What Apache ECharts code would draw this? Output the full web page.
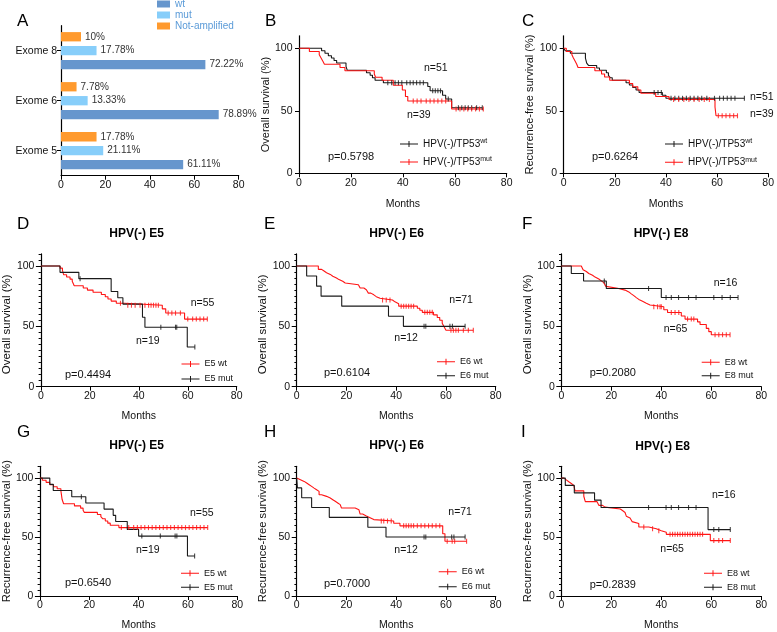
<!DOCTYPE html>
<html><head><meta charset="utf-8">
<script src="https://cdn.jsdelivr.net/npm/echarts@6/dist/echarts.min.js"></script>
<style>html,body{margin:0;padding:0;background:#fff}#c{width:777px;height:632px}</style>
</head><body><div id="c"></div><script>
// ---------- Panel A data ----------
const exomeCats = ['Exome 5', 'Exome 6', 'Exome 8'];
const wtCounts  = [55, 71, 65];
const mutCounts = [19, 12, 16];
const naCounts  = [16, 7, 9];
const wtPct  = ['61.11%', '78.89%', '72.22%'];
const mutPct = ['21.11%', '13.33%', '17.78%'];
const naPct  = ['17.78%', '7.78%', '10%'];

// ---------- Kaplan-Meier data: [months, survival %] steps, censor times ----------
const B_wt = [[0,100],[8.7,98],[10,96.1],[11.3,94.1],[12.5,92.2],[13.5,90.2],[14.5,88.2],[18.1,85.5],[18.6,82.4],[26,80.4],[27.4,78.4],[28.3,76.5],[29.3,74.5],[32.5,72.5],[49.6,69.5],[50.5,66],[55.3,62.5],[56.5,59.5],[58.8,52.5]];
const B_wt_c = [34.2,35.7,37,38.3,39.6,41.5,42.8,44,45.3,46.6,47.9,51.5,52.5,53.5,54.5,57.5,61.4,62.7,64,65.2,66.5,68.4,70.6];
const B_mut = [[0,100],[4,97.4],[7.8,94.9],[8.5,92.3],[9.2,89.7],[9.8,87.2],[15.8,84.6],[17.7,82.1],[29,79.5],[29.5,76.9],[32,74.4],[36.3,70.5],[39.8,66.7],[41,61.5],[41.9,57.8],[58.8,51.5]];
const B_mut_c = [44,45.5,47,49,50.5,52,53.5,55,56.5,60.5,62,63.5,65,66.5,68,69.5,71];

const C_wt = [[0,100],[0.6,98],[2.6,96.1],[8.5,92.2],[9,88.2],[9.7,86.3],[12.9,84.3],[14,82.4],[16.7,80.4],[17.5,78.4],[18.2,76.5],[19,74.5],[24.4,72.5],[25.7,70.6],[27,68.6],[28.3,66.7],[29.5,64.7],[38.6,62.5],[40,60]];
const C_wt_c = [35.4,36.9,38.2,42,43.5,45,46.5,48,49.5,51,52.5,54,56,59,61,62.5,64,65.5,67,70.7];
const C_mut = [[0,100],[1,97.4],[3.2,94.9],[3.8,92.3],[4.5,89.7],[5.1,87.2],[5.6,84.6],[12.2,82.1],[14.8,79.5],[16,77],[18,74.4],[25.7,71.8],[27,69.2],[29,66.7],[30.2,64.1],[36,61.5],[41.2,59],[59.2,53],[59.6,46]];
const C_mut_c = [43,45,47,49,51,53,55,57,60.5,62,63.5,65,66.5,68];

const D_wt = [[0,100],[7.8,98.2],[8.8,96.4],[9.3,92.7],[10.5,90.9],[11.9,89.1],[12.8,87.3],[13.6,83.6],[17.3,81.8],[19,80],[21.3,78.2],[24.7,76.4],[26.3,74.5],[27.4,72.7],[28.7,70.9],[30.8,69.1],[34.1,67.5],[49.6,64.5],[51,61],[58.7,56]];
const D_wt_c = [32.5,35.5,37,38.5,40.5,42.5,44,45,46,47,48,52,53.5,55,57,60,62,63.5,65,66.5,68];
const D_mut = [[0,100],[7.8,94.7],[15.5,89.5],[28.7,78.9],[31.4,73.7],[33.5,68.4],[41.5,57.5],[42.5,49.3],[59.8,32.9]];
const D_mut_c = [16,49,55,55.5,62.9];

const E_wt = [[0,100],[8.7,97.2],[10,95.8],[11,94.4],[12,93],[13.5,91.5],[14.5,90.1],[16,88.7],[17,87.3],[18.5,85.9],[19.5,84.5],[24.8,83.1],[25.5,81.7],[27,80.3],[28,78.9],[28.8,77.5],[29.8,76.1],[31,74.6],[32,73.2],[33.5,71.8],[38.5,70.3],[39.5,68.8],[41,66.7],[48.5,65],[49.5,63.3],[50.5,61.6],[55,59.5],[56.5,57.3],[57.5,55],[58.5,52.5],[59.2,49.8],[60,46.8]];
const E_wt_c = [34.5,36,37.5,42,43,44,45,46,47,51.5,52.5,53.5,54.5,62,63,64,65,67,69,71];
const E_mut = [[0,100],[4,91.7],[8,83.3],[9.8,75],[18.1,66.7],[36.9,58.3],[42.9,50]];
const E_mut_c = [51.2,51.9,61.6,62.6,67.7];

const F_wt = [[0,100],[8,98.5],[8.7,96.9],[9.3,95.4],[10,93.8],[11,92.3],[12.5,90.8],[13.5,89.2],[15,87.7],[16,86.2],[17,84.6],[17.8,83.1],[18.3,81.5],[22.5,80],[25.5,78.5],[27,76.9],[28,75.4],[29,73.8],[30,72.3],[31,70.8],[32.5,69.2],[34,67.7],[35.5,66.2],[41,63.8],[42.5,61.5],[48,58.6],[49.5,56],[54.5,53.7],[55.5,51.5],[58,48.3],[59,45.6],[60,43]];
const F_wt_c = [37,38.5,39.5,40,44,45.5,47,50.5,52,53,61.5,63,64.5,66,67.5];
const F_mut = [[0,100],[4,93.8],[8.9,87.5],[18,81.3],[40,73.9]];
const F_mut_c = [17.2,34.9,41.9,44,46.9,50.9,53.9,61,64.3,67.6,70.7];

const G_wt = [[0,100],[1,98.2],[2.5,96.4],[4,94.5],[5.5,92.7],[7,90.9],[8.5,89.1],[9,81.8],[9.6,78.2],[14,76.4],[16.5,74.5],[17.5,72.7],[18,70.9],[23.3,69.1],[24.7,67.3],[25.5,65.5],[26.5,63.6],[27.5,61.8],[28.5,60],[32,58]];
const G_wt_c = [33,36,38,39.5,41,42.5,44,45.5,47,48.5,50,51.5,53,54.5,56,57.5,59,60.5,62,63.5,65,66.5,68];
const G_mut = [[0,100],[4,94.7],[5.4,89.5],[12.9,84.2],[18.6,78.9],[26,73.7],[29.7,68.4],[30.7,63.2],[35.4,56.5],[40,50.8],[59.8,33.9]];
const G_mut_c = [16.8,41.3,48.8,54.8,55.5,62.7];

const H_wt = [[0,100],[0.5,98.6],[1.5,97.2],[3,95.8],[4,94.4],[5,93],[6,91.5],[7,90.1],[8,88.7],[9,85.9],[10,84.5],[12,83.1],[13.5,81.7],[14.5,80.3],[15.5,78.9],[16.5,77.5],[17.5,76],[18,74.6],[23.5,73.2],[25,71.7],[25.5,69.5],[26.5,67.9],[28,66.4],[29.5,64.8],[31,63.6],[39,61.7],[41.5,59.5],[58.7,52.8],[59.6,46.4]];
const H_wt_c = [34,35,36.5,38,43,44,45,46,47,48.5,50,51.5,53,54.5,56,57.5,60.5,62.5,63.5,68.3];
const H_mut = [[0,100],[0.3,91.7],[2,83.3],[6,75],[13.1,66.7],[28.6,58.3],[35.9,50]];
const H_mut_c = [51.2,51.9,62.3,63.2,67.7];

const I_wt = [[0,100],[1,98.5],[2,96.9],[3,95.4],[4,93.8],[5,92.3],[5.5,89.2],[9,84.6],[9.6,80],[14.3,78.5],[15,76.9],[16.5,75.4],[17.5,73.8],[23.6,72.3],[24.6,70.8],[25.5,69.2],[26,67.7],[26.5,66.2],[27.5,64.6],[28.3,63.1],[29,61.5],[31,58.5],[35,57],[38,55.4],[40,54],[42,52.3],[59.6,47]];
const I_wt_c = [33,36.5,39,43.5,44.5,45.5,46.5,47.5,48.5,49.5,50.5,51.5,52.5,53.5,54.5,55.5,56.5,61,63,64.5,67.6];
const I_mut = [[0,100],[1.6,93.8],[5.2,87.5],[13.3,81.3],[15.9,75],[58.7,56.3]];
const I_mut_c = [34.9,41.9,44,46.9,50.9,53.9,61,63,67.6];

const yTickValues = [0, 50, 100];

// ---------- styling / layout ----------
const FONT = "'Liberation Sans', Arial, Helvetica, sans-serif";
const RED = '#ff1414', BLK = '#1a1a1a';
const OS = 'Overall survival (%)', RFS = 'Recurrence-free survival (%)';
const TP_WT = 'HPV(-)/TP53wt', TP_MUT = 'HPV(-)/TP53mut';

// g: grid [left, top, width, height]; leg: [left, top, itemGap, lineHeight]
const kmPanels = [
  {g:[299,35.8,207.7,137.5], y:OS, yGap:26, yFs:11, yPad:0, xGap:25, minor:false,
   curves:[[TP_WT,BLK,B_wt,B_wt_c],[TP_MUT,RED,B_mut,B_mut_c]], leg:[400,138,6,12],
   texts:[['p=0.5798',328,157],['n=51',424,68],['n=39',407,115]]},
  {g:[563.7,35.8,207.3,137.5], y:RFS, yGap:27, yFs:11, yPad:0, xGap:25, minor:false,
   curves:[[TP_WT,BLK,C_wt,C_wt_c],[TP_MUT,RED,C_mut,C_mut_c]], leg:[665,138,6.3,12],
   texts:[['p=0.6264',592,157],['n=51',750,96.7],['n=39',750,114]]},
  {g:[39,253.9,197.7,132.8], y:OS, yGap:25, yFs:11.5, yPad:8, xGap:24, minor:true,
   curves:[['E5 wt',RED,D_wt,D_wt_c],['E5 mut',BLK,D_mut,D_mut_c]], leg:[181.5,359,5,10],
   texts:[['p=0.4494',65,375],['n=55',190.7,303.3],['n=19',136,340.7]]},
  {g:[296.7,253.9,199,132.8], y:OS, yGap:24, yFs:11.5, yPad:8, xGap:24, minor:true,
   curves:[['E6 wt',RED,E_wt,E_wt_c],['E6 mut',BLK,E_mut,E_mut_c]], leg:[437,356.7,4,10],
   texts:[['p=0.6104',324,373.3],['n=71',449.3,300],['n=12',394.3,337.7]]},
  {g:[561.3,253.9,200,132.8], y:OS, yGap:25, yFs:11.5, yPad:8, xGap:24, minor:true,
   curves:[['E8 wt',RED,F_wt,F_wt_c],['E8 mut',BLK,F_mut,F_mut_c]], leg:[701.7,357.3,3.4,10],
   texts:[['p=0.2080',589.7,373.3],['n=16',713.7,283.3],['n=65',663.7,329.3]]},
  {g:[39,466.3,198.3,132], y:RFS, yGap:25, yFs:11.2, yPad:0, xGap:24, minor:true,
   curves:[['E5 wt',RED,G_wt,G_wt_c],['E5 mut',BLK,G_mut,G_mut_c]], leg:[181,568.3,4,10],
   texts:[['p=0.6540',65,583.3],['n=55',190,512.7],['n=19',136,550]]},
  {g:[296.7,466.3,199,132], y:RFS, yGap:23, yFs:11.2, yPad:0, xGap:24, minor:true,
   curves:[['E6 wt',RED,H_wt,H_wt_c],['E6 mut',BLK,H_mut,H_mut_c]], leg:[438.7,566.7,5,10],
   texts:[['p=0.7000',324,584],['n=71',448.3,512.3],['n=12',394.3,550]]},
  {g:[561.3,466.3,200,132], y:RFS, yGap:25, yFs:11.2, yPad:0, xGap:24, minor:true,
   curves:[['E8 wt',RED,I_wt,I_wt_c],['E8 mut',BLK,I_mut,I_mut_c]], leg:[704,568.3,4,10],
   texts:[['p=0.2839',589.7,585],['n=16',712,495],['n=65',660.3,549.3]]}
];
const letters = [['A',17,21],['B',265,21],['C',522,21],['D',17,224],['E',264,224],['F',522,224],['G',17,432.5],['H',264,432.5],['I',521,432.5]];
const titles = [['HPV(-) E5',136.7,233.3],['HPV(-) E6',396.7,233.3],['HPV(-) E8',661,233.3],['HPV(-) E5',136.7,446],['HPV(-) E6',396.7,446],['HPV(-) E8',662.7,446.5]];

function survAt(steps, t) {
  let s = steps[0][1];
  for (const p of steps) { if (p[0] <= t) s = p[1]; else break; }
  return s;
}

const axisLineStyle = {color:'#000', width:1.2};
const option = {
  animation:false,
  textStyle:{fontFamily:FONT},
  grid:[], xAxis:[], yAxis:[], series:[], legend:[],
  graphic:{elements:[]}
};

// ---------- Panel A ----------
option.grid.push({left:61, top:25.7, width:177.7, height:150});
option.xAxis.push({gridIndex:0, type:'value', min:0, max:80, interval:20,
  axisLine:{show:true, lineStyle:axisLineStyle}, axisTick:{show:true, length:4, lineStyle:{color:'#000'}},
  splitLine:{show:false}, axisLabel:{fontSize:10.5, color:'#111', margin:4}});
option.yAxis.push({gridIndex:0, type:'category', data:exomeCats,
  axisLine:{show:true, lineStyle:axisLineStyle}, axisTick:{show:true, alignWithLabel:true, length:4, lineStyle:{color:'#000'}},
  axisLabel:{fontSize:10.5, color:'#111', margin:4}});
const barSpecs = [['Not-amplified', naCounts, naPct, '#ff9a2e'], ['mut', mutCounts, mutPct, '#87cefa'], ['wt', wtCounts, wtPct, '#6696cd']];
barSpecs.forEach(([name, vals, labels, color]) => {
  option.series.push({type:'bar', name, xAxisIndex:0, yAxisIndex:0, data:vals, barWidth:9.3, barGap:'50%',
    itemStyle:{color}, label:{show:true, position:'right', distance:4, fontSize:10, color:'#333',
    formatter:(p) => labels[p.dataIndex]}});
});
option.legend.push({data:['wt','mut','Not-amplified'], orient:'vertical', left:157, top:-1, padding:0,
  itemWidth:13, itemHeight:7, itemGap:1, icon:'rect', selectedMode:false,
  textStyle:{color:'#5b9bd8', fontSize:10, lineHeight:10, fontFamily:FONT}});

// ---------- KM panels ----------
const legIcon = 'path://M0,2.5h18v1h-18z M8.5,0h1v6h-1z';
kmPanels.forEach((p) => {
  const gi = option.grid.length;
  option.grid.push({left:p.g[0], top:p.g[1], width:p.g[2], height:p.g[3]});
  const xi = option.xAxis.length;
  option.xAxis.push({gridIndex:gi, type:'value', min:0, max:80, interval:20,
    name:'Months', nameLocation:'middle', nameGap:p.xGap, nameTextStyle:{fontSize:10.5, color:'#111'},
    axisLine:{show:true, lineStyle:axisLineStyle}, axisTick:{show:true, length:4, lineStyle:{color:'#000'}},
    axisLabel:{fontSize:10.5, color:'#111', margin:4}, splitLine:{show:false}});
  const yi = option.yAxis.length;
  option.yAxis.push({gridIndex:gi, type:'value', min:0, max:110, interval:p.minor ? 5 : 10, position:'left',
    name:p.y, nameLocation:'middle', nameGap:p.yGap,
    nameTextStyle:{fontSize:p.yFs, color:'#111', padding:[0, p.yPad, 0, 0]},
    axisLine:{show:true, lineStyle:axisLineStyle},
    axisTick: p.minor ? {show:true, length:2.3, lineStyle:{color:'#000'}}
                      : {show:true, customValues:yTickValues, length:4, lineStyle:{color:'#000'}},
    axisLabel:{customValues:yTickValues, fontSize:10.5, color:'#111', margin:6.5}, splitLine:{show:false}});
  if (p.minor) {
    option.yAxis.push({gridIndex:gi, type:'value', min:0, max:110, interval:10, position:'left', offset:0,
      axisLine:{show:false}, axisTick:{show:true, customValues:yTickValues, length:5, lineStyle:{color:'#000'}},
      axisLabel:{show:false}, splitLine:{show:false}});
  }
  p.curves.forEach(([name, color, steps, cens]) => {
    const last = steps[steps.length - 1];
    const endT = Math.max(last[0], ...cens);
    const lineData = steps.concat(endT > last[0] ? [[endT, last[1]]] : []);
    option.series.push({type:'line', name, xAxisIndex:xi, yAxisIndex:yi, data:lineData, step:'end',
      showSymbol:false, symbol:'none', lineStyle:{color, width:1.1}, itemStyle:{color}, silent:true, z:3});
    option.series.push({type:'scatter', name, xAxisIndex:xi, yAxisIndex:yi,
      data:cens.map(t => [t, survAt(steps, t)]), symbol:'rect', symbolSize:[1.1, 5],
      itemStyle:{color}, silent:true, z:4});
  });
  const isTP = p.curves[0][0].startsWith('HPV');
  option.legend.push({data:p.curves.map(c => c[0]), orient:'vertical', left:p.leg[0], top:p.leg[1],
    padding:0, itemGap:p.leg[2], itemWidth:18, itemHeight:6, icon:legIcon, selectedMode:false,
    formatter: isTP ? (n => '{n|HPV(-)/TP53}{s|' + n.slice(11) + '}') : (n => n),
    textStyle:{fontSize:isTP ? 10 : 9, color:'#111', lineHeight:p.leg[3], fontFamily:FONT,
      rich:{n:{fontSize:10, lineHeight:12, fontFamily:FONT, color:'#111'},
            s:{fontSize:7, lineHeight:6, verticalAlign:'top', fontFamily:FONT, color:'#111'}}}});
  p.texts.forEach(([t, x, y]) => {
    option.graphic.elements.push({type:'text', x, y, silent:true,
      style:{text:t, fill:'#111', font:(t[0] === 'p' ? 11 : 10.5) + 'px ' + FONT,
        textAlign:'left', textVerticalAlign:'middle', align:'left', verticalAlign:'middle'}});
  });
});

letters.forEach(([t, x, y]) => {
  option.graphic.elements.push({type:'text', x, y, silent:true,
    style:{text:t, fill:'#000', font:'17px ' + FONT, textAlign:'left', textVerticalAlign:'middle', align:'left', verticalAlign:'middle'}});
});
titles.forEach(([t, x, y]) => {
  option.graphic.elements.push({type:'text', x, y, silent:true,
    style:{text:t, fill:'#000', font:'bold 12px ' + FONT, textAlign:'center', textVerticalAlign:'middle', align:'center', verticalAlign:'middle'}});
});

const chart = echarts.init(document.getElementById('c'), null, {renderer:'canvas'});
chart.setOption(option);
</script></body></html>
